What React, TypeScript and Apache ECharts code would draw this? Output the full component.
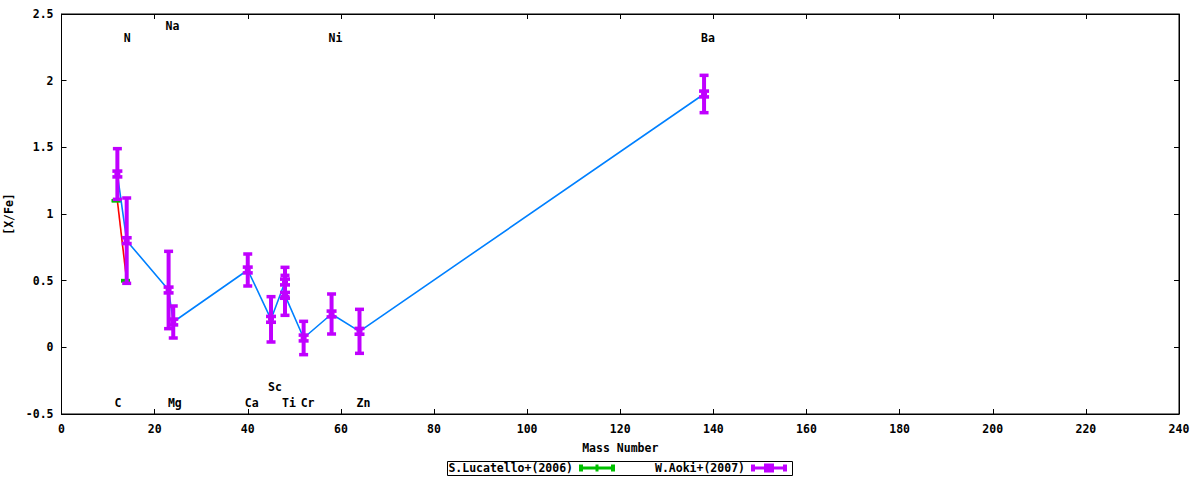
import React, { useEffect, useRef } from "react";
import * as echarts from "echarts";

// ---- data ----
const aokiMass = [12, 14, 23, 24, 40, 45, 48, 48, 52, 58, 64, 138];
const aokiValue = [1.3, 0.8, 0.43, 0.19, 0.58, 0.21, 0.49, 0.39, 0.07, 0.25, 0.12, 1.9];
const aokiError = [0.19, 0.32, 0.29, 0.12, 0.12, 0.17, 0.11, 0.15, 0.125, 0.15, 0.165, 0.14];

const lucMass = [12, 14];
const lucValue = [1.1, 0.5];
const lucError = [0, 0];

const elementNames = ["C", "N", "Na", "Mg", "Ca", "Sc", "Ti", "Cr", "Ni", "Zn", "Ba"];
const elementLabelX = [12, 14, 23, 23.5, 40, 45, 48, 52, 58, 64, 138];
const elementLabelY = [-0.42, 2.32, 2.41, -0.42, -0.42, -0.3, -0.42, -0.42, 2.32, -0.42, 2.32];

const xTicks = { min: 0, max: 240, interval: 20 };
const yTicks = { min: -0.5, max: 2.5, interval: 0.5 };

const seriesNames = ["S.Lucatello+(2006)", "W.Aoki+(2007)"];

const RED = "#ff0000";
const GREEN = "#00c000";
const BLUE = "#0080ff";
const MAGENTA = "#c000ff";
const FONT = "DejaVu Sans Mono";

function errorBarItem(color: string, withMarker: boolean, dx: number) {
  return (params: any, api: any) => {
    const x = api.value(0);
    const y = api.value(1);
    const e = api.value(2);
    const p = api.coord([x, y]);
    const t = api.coord([x, y + e]);
    const b = api.coord([x, y - e]);
    const cx = p[0] + dx;
    const style = { fill: color };
    const children: any[] = [];
    children.push({ type: "rect", shape: { x: cx - 2, y: t[1], width: 4, height: b[1] - t[1] }, style });
    children.push({ type: "rect", shape: { x: cx - 4.5, y: t[1] - 1.75, width: 9, height: 3.5 }, style });
    children.push({ type: "rect", shape: { x: cx - 4.5, y: b[1] - 1.75, width: 9, height: 3.5 }, style });
    if (withMarker) {
      children.push({ type: "rect", shape: { x: cx - 5, y: p[1] - 4.7, width: 10, height: 3.6 }, style });
      children.push({ type: "rect", shape: { x: cx - 3, y: p[1] - 1.5, width: 6, height: 3 }, style });
      children.push({ type: "rect", shape: { x: cx - 5, y: p[1] + 1.1, width: 10, height: 3.6 }, style });
    }
    return { type: "group", children };
  };
}

export default function App() {
  const ref = useRef<HTMLDivElement>(null);

  useEffect(() => {
    if (!ref.current) return;
    const chart = echarts.init(ref.current, undefined, { renderer: "svg" });

    const aokiData = aokiMass.map((m, i) => [m, aokiValue[i], aokiError[i]]);
    const lucData = lucMass.map((m, i) => [m, lucValue[i], lucError[i]]);
    const labelData = elementNames.map((n, i) => [elementLabelX[i], elementLabelY[i], n]);

    const textStyle = { fontFamily: FONT, fontSize: 11.5, fontWeight: "bold" as const, color: "#000" };
    const fontStr = `bold 11.5px "${FONT}"`;

    const axisCommon = {
      type: "value" as const,
      splitLine: { show: false },
      axisLine: { show: true, onZero: false, lineStyle: { color: "#000", width: 1 } },
      axisTick: { show: true, inside: true, length: 5, lineStyle: { color: "#000" } },
    };

    // legend graphics
    const ly = 468;
    const legendG: any[] = [
      { type: "rect", shape: { x: 447.5, y: 461.5, width: 345, height: 14 }, style: { fill: "none", stroke: "#000", lineWidth: 1 } },
      { type: "text", x: 573, y: ly, style: { text: seriesNames[0], align: "right", verticalAlign: "middle", font: fontStr, fill: "#000" } },
      { type: "rect", shape: { x: 579, y: ly - 1.5, width: 36, height: 3 }, style: { fill: GREEN } },
      { type: "rect", shape: { x: 579, y: ly - 3.5, width: 4, height: 7 }, style: { fill: GREEN } },
      { type: "rect", shape: { x: 611, y: ly - 3.5, width: 4, height: 7 }, style: { fill: GREEN } },
      { type: "rect", shape: { x: 595.5, y: ly - 3.5, width: 3, height: 7 }, style: { fill: GREEN } },
      { type: "text", x: 745, y: ly, style: { text: seriesNames[1], align: "right", verticalAlign: "middle", font: fontStr, fill: "#000" } },
      { type: "rect", shape: { x: 751, y: ly - 1.5, width: 36, height: 3 }, style: { fill: MAGENTA } },
      { type: "rect", shape: { x: 751, y: ly - 3.5, width: 4, height: 7 }, style: { fill: MAGENTA } },
      { type: "rect", shape: { x: 783, y: ly - 3.5, width: 4, height: 7 }, style: { fill: MAGENTA } },
      { type: "rect", shape: { x: 764, y: ly - 4.5, width: 10, height: 3.5 }, style: { fill: MAGENTA } },
      { type: "rect", shape: { x: 766, y: ly - 1.5, width: 6, height: 3 }, style: { fill: MAGENTA } },
      { type: "rect", shape: { x: 764, y: ly + 1, width: 10, height: 3.5 }, style: { fill: MAGENTA } },
    ];

    chart.setOption({
      animation: false,
      backgroundColor: "#fff",
      textStyle: { fontFamily: FONT },
      grid: {
        left: 61.5,
        right: 21,
        top: 14,
        bottom: 66,
        outerBoundsMode: "none",
        containLabel: false,
        show: true,
        borderColor: "#000",
        borderWidth: 1,
        backgroundColor: "transparent",
      },
      xAxis: [
        {
          ...axisCommon,
          position: "bottom",
          min: xTicks.min,
          max: xTicks.max,
          interval: xTicks.interval,
          name: "Mass Number",
          nameLocation: "middle",
          nameGap: 28,
          nameTextStyle: textStyle,
          axisLabel: { ...textStyle, margin: 9 },
        },
        {
          ...axisCommon,
          position: "top",
          min: xTicks.min,
          max: xTicks.max,
          interval: xTicks.interval,
          axisLabel: { show: false },
        },
      ],
      yAxis: [
        {
          ...axisCommon,
          position: "left",
          min: yTicks.min,
          max: yTicks.max,
          interval: yTicks.interval,
          name: "[X/Fe]",
          nameLocation: "middle",
          nameRotate: 90,
          nameGap: 44,
          nameTextStyle: textStyle,
          axisLabel: { ...textStyle, margin: 8 },
        },
        {
          ...axisCommon,
          position: "right",
          min: yTicks.min,
          max: yTicks.max,
          interval: yTicks.interval,
          axisLabel: { show: false },
        },
      ],
      series: [
        {
          type: "line",
          name: seriesNames[0] + " line",
          data: lucData.map((d) => [d[0], d[1]]),
          showSymbol: false,
          symbol: "none",
          lineStyle: { color: RED, width: 1.6 },
          z: 1,
        },
        {
          type: "custom",
          name: seriesNames[0],
          data: lucData,
          renderItem: errorBarItem(GREEN, false, -1.2),
          encode: { x: 0, y: 1 },
          z: 2,
        },
        {
          type: "line",
          name: seriesNames[1] + " line",
          data: aokiData.map((d) => [d[0], d[1]]),
          showSymbol: false,
          symbol: "none",
          lineStyle: { color: BLUE, width: 1.6 },
          z: 3,
        },
        {
          type: "custom",
          name: seriesNames[1],
          data: aokiData,
          renderItem: errorBarItem(MAGENTA, true, 0),
          encode: { x: 0, y: 1 },
          z: 4,
        },
        {
          type: "custom",
          name: "elements",
          data: labelData,
          silent: true,
          encode: { x: 0, y: 1 },
          renderItem: (params: any, api: any) => {
            const p = api.coord([api.value(0), api.value(1)]);
            const name = elementNames[params.dataIndex];
            return {
              type: "text",
              x: p[0] - 3,
              y: p[1],
              style: { text: name, font: fontStr, fill: "#000", align: "left", verticalAlign: "middle" },
            };
          },
          z: 5,
        },
      ],
      graphic: legendG,
    });

    return () => chart.dispose();
  }, []);

  return <div ref={ref} style={{ position: "fixed", left: 0, top: 0, width: 1200, height: 480 }} />;
}
